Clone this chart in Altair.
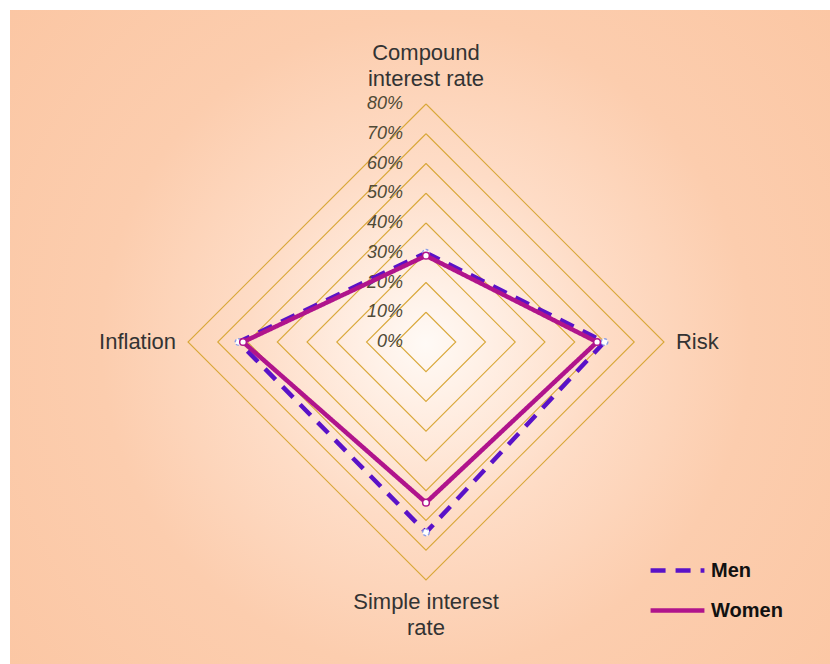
import altair as alt
import pandas as pd

# ---- data ----
categories = ["Compound\ninterest rate", "Risk", "Simple interest\nrate", "Inflation"]
men = [30, 60, 64, 63]
women = [29, 57.5, 54, 61.5]
grid_levels = [10, 20, 30, 40, 50, 60, 70, 80]
tick_values = [0, 10, 20, 30, 40, 50, 60, 70, 80]
tick_labels = ["0%", "10%", "20%", "30%", "40%", "50%", "60%", "70%", "80%"]
series_names = ["Men", "Women"]

# ---- layout constants ----
W, H = 830, 664
CX, CY = 426, 342          # centre of radar in pixels
PX_PER_UNIT = 238 / 80     # 80% radius in pixels
LABEL_R = 84

xdom = [-CX / PX_PER_UNIT, (W - CX) / PX_PER_UNIT]
ydom = [-(H - CY) / PX_PER_UNIT, CY / PX_PER_UNIT]
N = len(categories)

rows = []
for name, vals in zip(series_names, [men, women]):
    for k in range(N + 1):
        rows.append({"series": name, "idx": k, "value": vals[k % N]})
series_df = pd.DataFrame(rows)

grid_rows = []
for lv in grid_levels:
    for k in range(N + 1):
        grid_rows.append({"level": lv, "idx": k, "value": lv})
grid_df = pd.DataFrame(grid_rows)

tick_df = pd.DataFrame({"value": tick_values, "label": tick_labels})
cat_df = pd.DataFrame({"idx": list(range(N)), "label": categories})

xs = alt.Scale(domain=xdom, nice=False, zero=False)
ys = alt.Scale(domain=ydom, nice=False, zero=False)

calc_x = f"datum.value * sin(2 * PI * datum.idx / {N})"
calc_y = f"datum.value * cos(2 * PI * datum.idx / {N})"

def X():
    return alt.X("px:Q", scale=xs, axis=None)

def Y():
    return alt.Y("py:Q", scale=ys, axis=None)

# background with radial gradient
bg = alt.Chart(pd.DataFrame({"a": [0]})).mark_rect(
    fill=alt.RadialGradient(
        gradient="radial",
        x1=0.507, y1=0.508, r1=0, x2=0.507, y2=0.508, r2=0.72,
        stops=[
            alt.GradientStop(offset=0.0, color="#fffaf6"),
            alt.GradientStop(offset=0.1, color="#fff0e6"),
            alt.GradientStop(offset=0.3, color="#fedcc6"),
            alt.GradientStop(offset=0.55, color="#fccdae"),
            alt.GradientStop(offset=1.0, color="#fbc5a1"),
        ],
    ),
    strokeWidth=0,
).encode(x=alt.value(10), x2=alt.value(W), y=alt.value(10), y2=alt.value(H))

grid = alt.Chart(grid_df).transform_calculate(px=calc_x, py=calc_y).mark_line(
    color="#d9a83a", strokeWidth=1.1
).encode(x=X(), y=Y(), detail="level:N", order="idx:Q")

ticks = alt.Chart(tick_df).transform_calculate(px="0", py="datum.value").mark_text(
    align="right", baseline="middle", dx=-23, fontStyle="italic", fontSize=18,
    font="Liberation Sans", color="#4f4a36"
).encode(x=X(), y=Y(), text="label:N")

color_scale = alt.Scale(domain=series_names, range=["#5a12c8", "#b0148c"])
dash_scale = alt.Scale(domain=series_names, range=[[15, 10], [1, 0]])
legend_cfg = dict(
    title=None, orient="none", legendX=648, legendY=541, symbolType="stroke",
    symbolSize=2900, symbolStrokeWidth=4.5, labelFontSize=20, labelFont="Liberation Sans",
    labelFontWeight="bold", labelColor="#111111", labelOffset=4, rowPadding=-7,
)

lines = alt.Chart(series_df).transform_calculate(px=calc_x, py=calc_y).mark_line(
    strokeWidth=4.5
).encode(
    x=X(), y=Y(), order="idx:Q",
    color=alt.Color("series:N", scale=color_scale, legend=alt.Legend(**legend_cfg)),
    strokeDash=alt.StrokeDash("series:N", scale=dash_scale, legend=alt.Legend(**legend_cfg)),
)

men_line = lines.transform_filter("datum.series == 'Men'")
women_line = lines.transform_filter("datum.series == 'Women'")

pts_base = alt.Chart(series_df).transform_filter(f"datum.idx < {N}").transform_calculate(
    px=calc_x, py=calc_y
)
men_pts = pts_base.transform_filter("datum.series == 'Men'").mark_point(
    filled=True, fill="white", stroke="#8fa0e6", strokeWidth=1.5, size=45, opacity=1,
    strokeDash=[3, 2]
).encode(x=X(), y=Y())
women_pts = pts_base.transform_filter("datum.series == 'Women'").mark_point(
    filled=True, fill="white", stroke="#b0148c", strokeWidth=1.5, size=45, opacity=1
).encode(x=X(), y=Y())

lab_base = alt.Chart(cat_df).transform_calculate(
    px=f"{LABEL_R} * sin(2 * PI * datum.idx / {N})",
    py=f"{LABEL_R} * cos(2 * PI * datum.idx / {N})",
)
lab_style = dict(fontSize=22, font="Liberation Sans", color="#333333", lineBreak="\n", lineHeight=26)
lab_top = lab_base.transform_filter("datum.idx == 0").mark_text(
    align="center", baseline="bottom", dy=-27, **lab_style).encode(x=X(), y=Y(), text="label:N")
lab_right = lab_base.transform_filter("datum.idx == 1").mark_text(
    align="left", baseline="middle", **lab_style).encode(x=X(), y=Y(), text="label:N")
lab_bottom = lab_base.transform_filter("datum.idx == 2").mark_text(
    align="center", baseline="top", **lab_style).encode(x=X(), y=Y(), text="label:N")
lab_left = lab_base.transform_filter("datum.idx == 3").mark_text(
    align="right", baseline="middle", **lab_style).encode(x=X(), y=Y(), text="label:N")

chart = alt.layer(
    bg, grid, ticks, men_line, women_line, men_pts, women_pts,
    lab_top, lab_right, lab_bottom, lab_left,
).properties(
    width=W, height=H, padding=0,
    autosize=alt.AutoSizeParams(type="none"),
    background="white",
).configure_view(stroke=None)

chart.save("out.html", embed_options={"renderer": "svg", "actions": False})
